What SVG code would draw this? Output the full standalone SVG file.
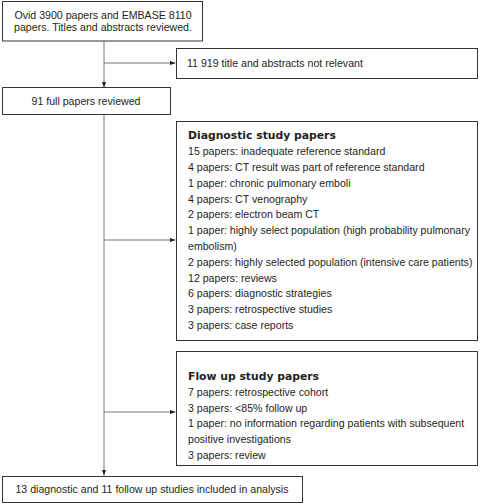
<svg xmlns="http://www.w3.org/2000/svg" width="481" height="504" viewBox="0 0 481 504">
<style>
.box{fill:#fff;stroke:#333;stroke-width:1}
.t{font-family:"Liberation Sans",Arial,sans-serif;font-size:10.6px;fill:#231f20}
.c{text-anchor:middle}
.b{font-family:"DejaVu Sans",sans-serif;font-weight:bold;font-size:10.8px;fill:#231f20}
.ln{stroke:#777;stroke-width:1;fill:none}
</style>
<defs>
<marker id="ah" viewBox="0 0 6 6" refX="6" refY="3" markerWidth="6" markerHeight="6" markerUnits="userSpaceOnUse" orient="auto">
<path d="M0,0.8 L6,3 L0,5.2 z" fill="#231f20"/>
</marker>
</defs>
<g id="connectors">
<line class="ln" x1="104" y1="41" x2="104" y2="87.5" marker-end="url(#ah)"/>
<line class="ln" x1="104" y1="63" x2="175.5" y2="63" marker-end="url(#ah)"/>
<line class="ln" x1="104" y1="114" x2="104" y2="475.5" marker-end="url(#ah)"/>
<line class="ln" x1="104" y1="240" x2="175.5" y2="240" marker-end="url(#ah)"/>
<line class="ln" x1="104" y1="412" x2="175.5" y2="412" marker-end="url(#ah)"/>
</g>
<g id="n1">
<rect class="box" x="2.5" y="1.5" width="200" height="39.5"/>
<text class="t c" x="103" y="19">Ovid 3900 papers and EMBASE 8110</text>
<text class="t c" x="103" y="31">papers. Titles and abstracts reviewed.</text>
</g>
<g id="n2">
<rect class="box" x="176.5" y="48.5" width="301" height="30"/>
<text class="t" x="187" y="67">11 919 title and abstracts not relevant</text>
</g>
<g id="n3">
<rect class="box" x="2.5" y="87.5" width="168" height="27"/>
<text class="t c" x="86" y="104.5">91 full papers reviewed</text>
</g>
<g id="n4">
<rect class="box" x="176.5" y="121.5" width="301" height="219"/>
<text class="b" x="188" y="139">Diagnostic study papers</text>
<text class="t" x="188" y="155">15 papers: inadequate reference standard</text>
<text class="t" x="188" y="171">4 papers: CT result was part of reference standard</text>
<text class="t" x="188" y="186.5">1 paper: chronic pulmonary emboli</text>
<text class="t" x="188" y="202.5">4 papers: CT venography</text>
<text class="t" x="188" y="218">2 papers: electron beam CT</text>
<text class="t" x="188" y="234">1 paper: highly select population (high probability pulmonary</text>
<text class="t" x="188" y="250">embolism)</text>
<text class="t" x="188" y="265.5">2 papers: highly selected population (intensive care patients)</text>
<text class="t" x="188" y="281.5">12 papers: reviews</text>
<text class="t" x="188" y="297">6 papers: diagnostic strategies</text>
<text class="t" x="188" y="313">3 papers: retrospective studies</text>
<text class="t" x="188" y="329">3 papers: case reports</text>
</g>
<g id="n5">
<rect class="box" x="176.5" y="351.5" width="301" height="114"/>
<text class="b" x="188" y="380">Flow up study papers</text>
<text class="t" x="188" y="396">7 papers: retrospective cohort</text>
<text class="t" x="188" y="411.5">3 papers: &lt;85% follow up</text>
<text class="t" x="188" y="427">1 paper: no information regarding patients with subsequent</text>
<text class="t" x="188" y="443">positive investigations</text>
<text class="t" x="188" y="458.5">3 papers: review</text>
</g>
<g id="n6">
<rect class="box" x="2.5" y="476.5" width="300" height="26"/>
<text class="t c" x="152" y="493">13 diagnostic and 11 follow up studies included in analysis</text>
</g>
</svg>
